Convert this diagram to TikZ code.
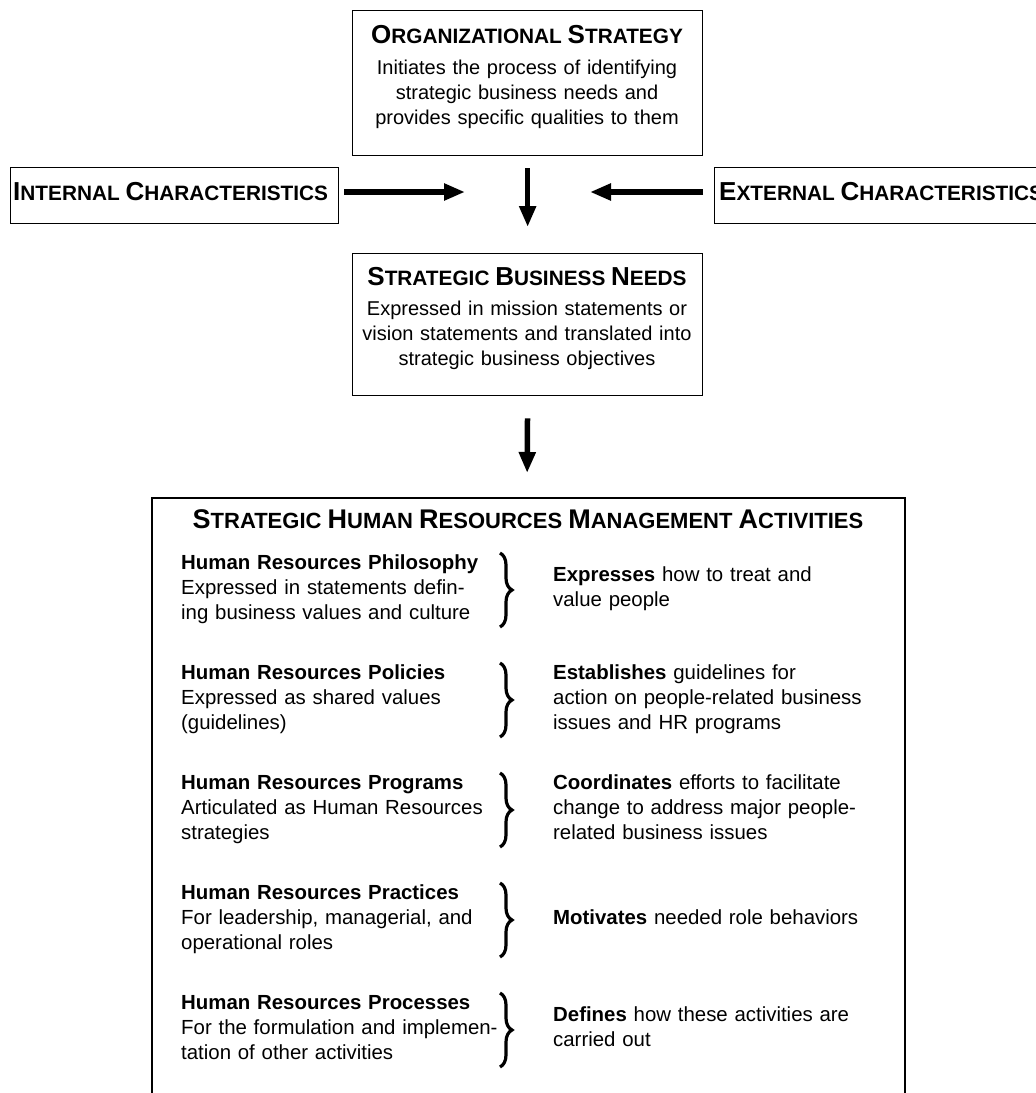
\documentclass[tikz,border=0pt]{standalone}
\usepackage{fontspec}
\setmainfont{Liberation Sans}
\usetikzlibrary{arrows.meta,decorations.pathreplacing}
\newcommand{\bodyfont}{\fontsize{20}{25}\selectfont}
\newcommand{\colfont}{\fontsize{20.4}{25}\selectfont}
\newcommand{\sctitle}{\fontsize{20.8}{25}\selectfont\bfseries}
\newcommand{\scB}[1]{{\fontsize{26}{25}\selectfont #1}}
\newcommand{\sctitlebig}{\fontsize{22}{25}\selectfont\bfseries}
\newcommand{\scBB}[1]{{\fontsize{27}{25}\selectfont #1}}
\begin{document}
\begin{tikzpicture}[x=1pt,y=-1pt,
  box/.style={draw, line width=1.3pt, inner sep=0pt, anchor=north west},
  ttl/.style={anchor=base, inner sep=0pt, font=\sctitle},
  ttlbig/.style={anchor=base, inner sep=0pt, font=\sctitlebig},
  txt/.style={anchor=base, inner sep=0pt, font=\bodyfont, text width=350pt, align=center},
  col/.style={anchor=base west, inner sep=0pt, font=\colfont, text width=340pt, align=left},
  arr/.style={line width=5.5pt, -{Triangle[length=21pt,width=16pt]}},
  brc/.style={decorate, decoration={brace, amplitude=12pt}, line width=3.2pt},
]
\useasboundingbox (0,0) rectangle (1036,1093);
\fill[white] (0,0) rectangle (1036,1093);
\clip (0,0) rectangle (1036,1093);

% top box
\node[box, minimum width=350pt, minimum height=145pt] (ost) at (352,10) {};
\node[ttl] (ostT) at (527,43) {\scB{O}RGANIZATIONAL \scB{S}TRATEGY};
\node[txt] (ostD) at (527,74) {Initiates the process of identifying\\ strategic business needs and\\ provides specific qualities to them};

% strategic business needs
\node[box, minimum width=350pt, minimum height=142pt] (sbn) at (352,253) {};
\node[ttl] (sbnT) at (527,285) {\scB{S}TRATEGIC \scB{B}USINESS \scB{N}EEDS};
\node[txt] (sbnD) at (527,315) {Expressed in mission statements or\\ vision statements and translated into\\ strategic business objectives};

% internal / external
\node[box, minimum width=328pt, minimum height=56pt] (int) at (10,167) {};
\node[ttl, anchor=base west] (intT) at (13,200) {\scB{I}NTERNAL \scB{C}HARACTERISTICS};
\node[box, minimum width=360pt, minimum height=56pt] (ext) at (714,167) {};
\node[ttl, anchor=base west] (extT) at (719,200) {\scB{E}XTERNAL \scB{C}HARACTERISTICS};

% big box
\draw[line width=1.3pt] (152,1100) -- (152,498) -- (905,498) -- (905,1100);
\coordinate (hrtop) at (527,498);
\node[ttlbig] (hrT) at (528,528) {\scBB{S}TRATEGIC \scBB{H}UMAN \scBB{R}ESOURCES \scBB{M}ANAGEMENT \scBB{A}CTIVITIES};

% left column
\node[col] (l1) at (181,569) {\textbf{Human Resources Philosophy}\\ Expressed in statements defin-\\ ing business values and culture};
\node[col] (l2) at (181,679) {\textbf{Human Resources Policies}\\ Expressed as shared values\\ (guidelines)};
\node[col] (l3) at (181,789) {\textbf{Human Resources Programs}\\ Articulated as Human Resources\\ strategies};
\node[col] (l4) at (181,899) {\textbf{Human Resources Practices}\\ For leadership, managerial, and\\ operational roles};
\node[col] (l5) at (181,1009) {\textbf{Human Resources Processes}\\ For the formulation and implemen-\\ tation of other activities};

% braces
\draw[brc] (500,553) -- (500,627);
\draw[brc] (500,663) -- (500,737);
\draw[brc] (500,773) -- (500,847);
\draw[brc] (500,883) -- (500,957);
\draw[brc] (500,993) -- (500,1067);

% right column
\node[col] (r1) at (553,581.5) {\textbf{Expresses} how to treat and\\ value people};
\node[col] (r2) at (553,679) {\textbf{Establishes} guidelines for\\ action on people-related business\\ issues and HR programs};
\node[col] (r3) at (553,789) {\textbf{Coordinates} efforts to facilitate\\ change to address major people-\\ related business issues};
\node[col] (r4) at (553,924) {\textbf{Motivates} needed role behaviors};
\node[col] (r5) at (553,1021.5) {\textbf{Defines} how these activities are\\ carried out};

% arrows
\coordinate (mid) at (527,192);
\draw[arr, shorten <=12pt, shorten >=26pt] (ost.south) -- (sbn.north);
\draw[arr, shorten <=22pt, shorten >=25pt] (sbn.south) -- (hrtop);
\draw[arr, shorten <=5pt, shorten >=62pt] (int.east |- mid) -- (mid);
\draw[arr, shorten <=11pt, shorten >=63pt] (ext.west |- mid) -- (mid);
\end{tikzpicture}
\end{document}
